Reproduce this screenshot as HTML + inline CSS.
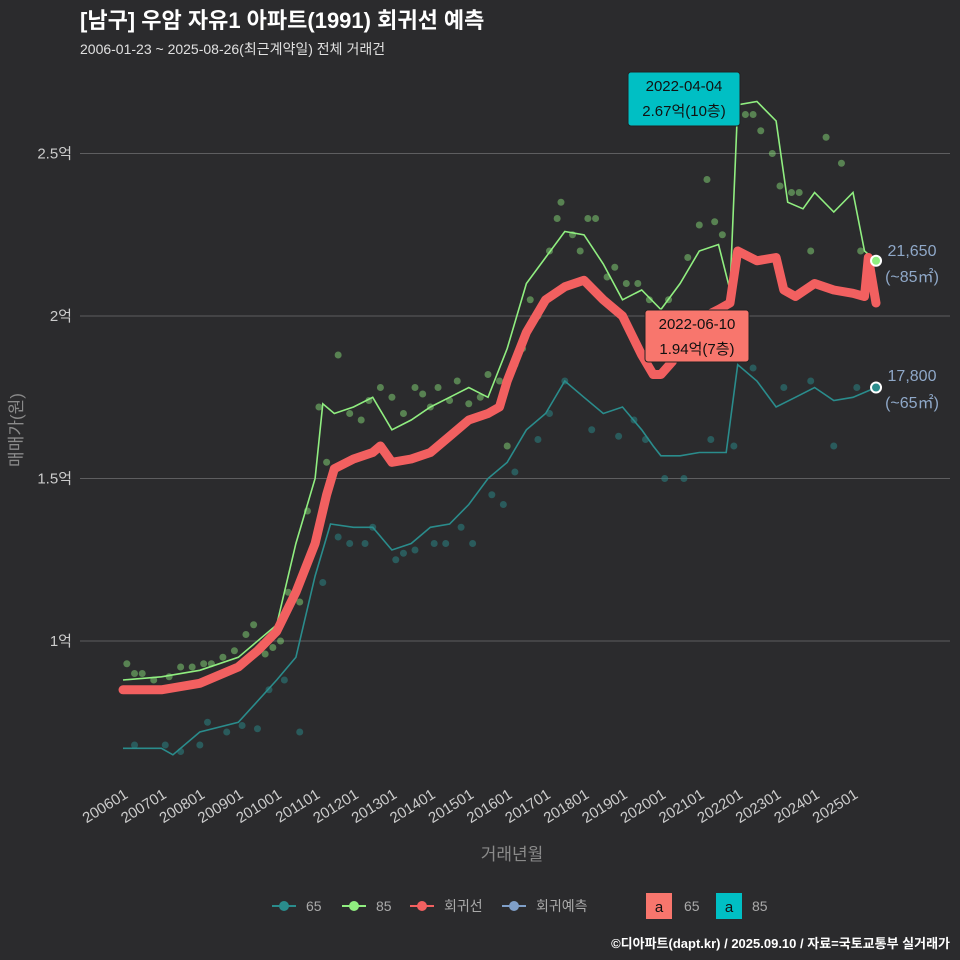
<!DOCTYPE html>
<html><head><meta charset="utf-8">
<style>
body{margin:0;background:#2b2b2d;}
svg{display:block;font-family:"Liberation Sans","Noto Sans CJK KR",sans-serif;}
</style></head>
<body>
<svg id="chart" width="960" height="960" viewBox="0 0 960 960">
<rect width="960" height="960" fill="#2b2b2d"/>
<text x="80" y="28" fill="#ffffff" font-size="22" font-weight="bold">[남구] 우암 자유1 아파트(1991) 회귀선 예측</text>
<text x="80" y="54" fill="#e0e0e0" font-size="14">2006-01-23 ~ 2025-08-26(최근계약일) 전체 거래건</text>
<g id="grid"></g><g id="pts"></g><g id="lines"></g><g id="xaxis"></g><g id="ann"></g>
<text x="512" y="860" fill="#8a8a8a" font-size="17" text-anchor="middle">거래년월</text>
<text transform="translate(22,430) rotate(-90)" fill="#8a8a8a" font-size="17" text-anchor="middle">매매가(원)</text>
<g font-size="14" fill="#aaaaaa">
 <line x1="272" y1="906" x2="296" y2="906" stroke="#2a8c8c" stroke-width="2"/><circle cx="284" cy="906" r="5" fill="#2a8c8c"/><text x="306" y="911" fill="#aaa">65</text>
 <line x1="342" y1="906" x2="366" y2="906" stroke="#90ee80" stroke-width="2"/><circle cx="354" cy="906" r="5" fill="#90ee80"/><text x="376" y="911" fill="#aaa">85</text>
 <line x1="410" y1="906" x2="434" y2="906" stroke="#f26060" stroke-width="2"/><circle cx="422" cy="906" r="5" fill="#f26060"/><text x="444" y="911" fill="#aaa">회귀선</text>
 <line x1="502" y1="906" x2="526" y2="906" stroke="#7f9fc8" stroke-width="2"/><circle cx="514" cy="906" r="5" fill="#7f9fc8"/><text x="536" y="911" fill="#aaa">회귀예측</text>
 <rect x="646" y="893" width="26" height="26" fill="#f8766d"/><text x="659" y="912" fill="#111" text-anchor="middle" font-size="15">a</text><text x="684" y="911" fill="#aaa">65</text>
 <rect x="716" y="893" width="26" height="26" fill="#00bfc4"/><text x="729" y="912" fill="#111" text-anchor="middle" font-size="15">a</text><text x="752" y="911" fill="#aaa">85</text>
</g>
<text x="950" y="948" fill="#ffffff" font-size="13" font-weight="bold" text-anchor="end">©디아파트(dapt.kr) / 2025.09.10 / 자료=국토교통부 실거래가</text>
</svg>
<script>
const yTicks=[1,1.5,2,2.5];
const yTickLabels=["1억","1.5억","2억","2.5억"];
const xTickYears=[2006,2007,2008,2009,2010,2011,2012,2013,2014,2015,2016,2017,2018,2019,2020,2021,2022,2023,2024,2025];
const regT=[2006,2007,2008,2009,2009.5,2010,2010.5,2011,2011.3,2011.5,2012,2012.5,2012.7,2013,2013.5,2014,2014.5,2015,2015.5,2015.8,2016,2016.5,2017,2017.5,2018,2018.5,2019,2019.5,2019.8,2020,2020.3,2020.5,2021,2021.5,2021.8,2022,2022.5,2023,2023.2,2023.5,2024,2024.5,2025,2025.3,2025.4,2025.6];
const regV=[0.85,0.85,0.87,0.92,0.97,1.03,1.15,1.3,1.45,1.53,1.56,1.58,1.6,1.55,1.56,1.58,1.63,1.68,1.7,1.72,1.8,1.95,2.05,2.09,2.11,2.05,2.0,1.88,1.82,1.82,1.86,1.95,1.99,2.02,2.04,2.2,2.17,2.18,2.08,2.06,2.1,2.08,2.07,2.06,2.18,2.04];
const s85T=[2006,2007,2008,2009,2010,2010.5,2011,2011.2,2011.5,2012,2012.5,2013,2013.5,2014,2014.5,2015,2015.5,2016,2016.5,2017,2017.5,2018,2018.5,2019,2019.5,2020,2020.5,2021,2021.5,2021.8,2022,2022.5,2023,2023.3,2023.7,2024,2024.5,2025,2025.3,2025.6];
const s85V=[0.88,0.89,0.91,0.95,1.05,1.3,1.5,1.73,1.7,1.72,1.75,1.65,1.68,1.72,1.75,1.78,1.75,1.9,2.1,2.18,2.26,2.25,2.16,2.05,2.08,2.02,2.1,2.2,2.22,2.08,2.65,2.66,2.6,2.35,2.33,2.38,2.32,2.38,2.2,2.17];
const s65T=[2006,2007,2007.3,2008,2009,2010,2010.5,2011,2011.4,2012,2012.5,2013,2013.5,2014,2014.5,2015,2015.5,2016,2016.5,2017,2017.5,2018,2018.5,2019,2019.5,2019.8,2020,2020.5,2021,2021.7,2022,2022.5,2023,2023.5,2024,2024.5,2025,2025.6];
const s65V=[0.67,0.67,0.65,0.72,0.75,0.88,0.95,1.2,1.36,1.35,1.35,1.28,1.3,1.35,1.36,1.42,1.5,1.55,1.65,1.7,1.8,1.75,1.7,1.72,1.65,1.6,1.57,1.57,1.58,1.58,1.85,1.8,1.72,1.75,1.78,1.74,1.75,1.78];
const pts85T=[2006.1,2006.3,2006.5,2006.8,2007.2,2007.5,2007.8,2008.1,2008.3,2008.6,2008.9,2009.2,2009.4,2009.7,2009.9,2010.1,2010.3,2010.6,2010.8,2011.1,2011.3,2011.6,2011.9,2012.2,2012.4,2012.7,2013.0,2013.3,2013.6,2013.8,2014.0,2014.2,2014.5,2014.7,2015.0,2015.3,2015.5,2015.8,2016.0,2016.2,2016.4,2016.6,2016.8,2017.1,2017.3,2017.4,2017.7,2017.9,2018.1,2018.3,2018.6,2018.8,2019.1,2019.4,2019.7,2020.2,2020.4,2020.7,2021.0,2021.2,2021.4,2021.6,2022.2,2022.4,2022.6,2022.9,2023.1,2023.4,2023.6,2023.9,2024.3,2024.7,2025.2];
const pts85V=[0.93,0.9,0.9,0.88,0.89,0.92,0.92,0.93,0.93,0.95,0.97,1.02,1.05,0.96,0.98,1.0,1.15,1.12,1.4,1.72,1.55,1.88,1.7,1.68,1.74,1.78,1.75,1.7,1.78,1.76,1.72,1.78,1.74,1.8,1.73,1.75,1.82,1.8,1.6,1.85,1.9,2.05,2.0,2.2,2.3,2.35,2.25,2.2,2.3,2.3,2.12,2.15,2.1,2.1,2.05,2.05,2.0,2.18,2.28,2.42,2.29,2.25,2.62,2.62,2.57,2.5,2.4,2.38,2.38,2.2,2.55,2.47,2.2];
const pts65T=[2006.3,2007.1,2007.5,2008.0,2008.2,2008.7,2009.1,2009.5,2009.8,2010.2,2010.6,2011.2,2011.6,2011.9,2012.3,2012.5,2013.1,2013.3,2013.6,2014.1,2014.4,2014.8,2015.1,2015.6,2015.9,2016.2,2016.8,2017.1,2017.5,2018.2,2018.9,2019.3,2019.6,2020.1,2020.6,2021.3,2021.9,2022.4,2023.2,2023.9,2024.5,2025.1];
const pts65V=[0.68,0.68,0.66,0.68,0.75,0.72,0.74,0.73,0.85,0.88,0.72,1.18,1.32,1.3,1.3,1.35,1.25,1.27,1.28,1.3,1.3,1.35,1.3,1.45,1.42,1.52,1.62,1.7,1.8,1.65,1.63,1.68,1.62,1.5,1.5,1.62,1.6,1.84,1.78,1.8,1.6,1.78];

const X=t=>123+(t-2006)*38.42;
const Y=v=>641-(v-1)*325;
const NS="http://www.w3.org/2000/svg";
function mk(tag,parent,attrs){const e=document.createElementNS(NS,tag);for(const k in attrs)e.setAttribute(k,attrs[k]);document.getElementById(parent).appendChild(e);return e;}

yTicks.forEach((v,i)=>{
 const l=mk('line','grid',{x1:80,x2:950,y1:Y(v),y2:Y(v),stroke:'#5e5e60','stroke-width':1});
 
 
 const t=mk('text','grid',{x:72,y:Y(v)+5,fill:'#cccccc','font-size':15,'text-anchor':'end'});
 t.textContent=yTickLabels[i];
 
 
});
xTickYears.forEach(y=>{
 const t=mk('text','xaxis',{transform:`translate(${X(y)+6},797) rotate(-32)`,fill:'#cccccc','font-size':15,'text-anchor':'end'});
 t.textContent=y+"01";
 
 
});
pts85T.forEach((t,i)=>{const c=mk('circle','pts',{cx:X(t),cy:Y(pts85V[i]),r:3.5,fill:'#90ee80','fill-opacity':0.45});
 });
pts65T.forEach((t,i)=>{const c=mk('circle','pts',{cx:X(t),cy:Y(pts65V[i]),r:3.5,fill:'#2a8c8c','fill-opacity':0.5});
 });
function path(T,V){return T.map((t,i)=>(i?'L':'M')+X(t).toFixed(1)+','+Y(V[i]).toFixed(1)).join('');}
const p65=mk('path','lines',{d:path(s65T,s65V),stroke:'#2a8c8c','stroke-width':1.6,fill:'none'});

const p85=mk('path','lines',{d:path(s85T,s85V),stroke:'#90ee80','stroke-width':1.6,fill:'none'});

const pr=mk('path','lines',{d:path(regT,regV),stroke:'#f26060','stroke-width':9,fill:'none','stroke-linejoin':'round','stroke-linecap':'round'});

const e85=mk('circle','lines',{cx:X(2025.6),cy:Y(s85V[s85V.length-1]),r:5,fill:'#90ee80',stroke:'#fff','stroke-width':2});

const e65=mk('circle','lines',{cx:X(2025.6),cy:Y(s65V[s65V.length-1]),r:5,fill:'#2a8c8c',stroke:'#fff','stroke-width':2});

function lab(x,y,txt,name){const t=mk('text','ann',{x:x,y:y,fill:'#8fa8c8','font-size':16,'text-anchor':'middle'});t.textContent=txt;
 }
lab(912,256,'21,650','end-label-85-price');lab(912,282,'(~85㎡)','end-label-85-area');
lab(912,381,'17,800','end-label-65-price');lab(912,408,'(~65㎡)','end-label-65-area');
function box(x,y,w,h,fill,l1,l2,name){
 const r=mk('rect','ann',{x:x,y:y,width:w,height:h,rx:3,fill:fill,stroke:'#222'});
 
 const a=mk('text','ann',{x:x+w/2,y:y+19,fill:'#111','font-size':15,'text-anchor':'middle'});a.textContent=l1;
 
 const b=mk('text','ann',{x:x+w/2,y:y+44,fill:'#111','font-size':15,'text-anchor':'middle'});b.textContent=l2;
 
}
box(628,72,112,54,'#00bfc4','2022-04-04','2.67억(10층)','max-annotation');
box(645,310,104,52,'#f8766d','2022-06-10','1.94억(7층)','recent-annotation');
</script>
</body></html>
